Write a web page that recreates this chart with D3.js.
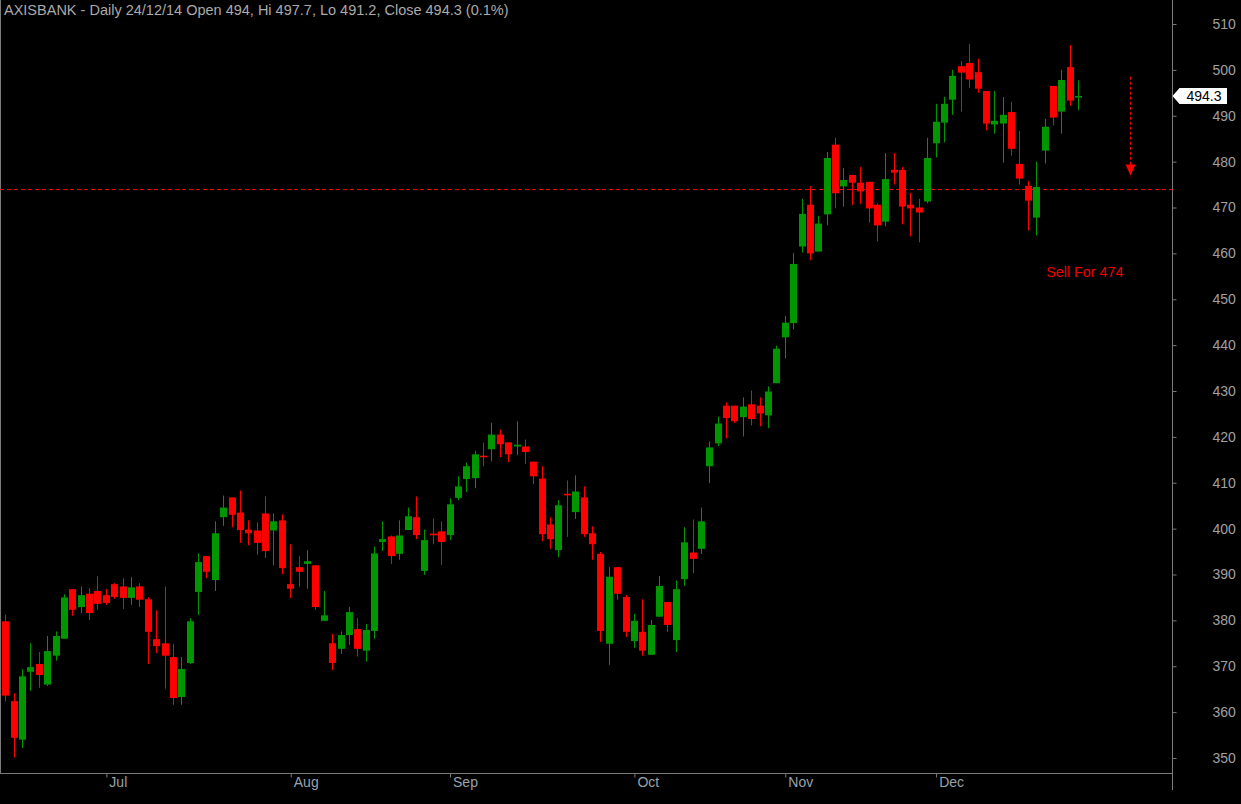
<!DOCTYPE html>
<html>
<head>
<meta charset="utf-8">
<script src="https://cdn.jsdelivr.net/npm/d3@7"></script>
<style>
  body { margin: 0; background: #000; }
  svg { display: block; }
  text { font-family: "Liberation Sans", Arial, sans-serif; }
</style>
</head>
<body>
<div id="chart"></div>
<script>
// Daily AXISBANK candles, 13 Jun 2014 .. 24 Dec 2014
const opens = [379.8, 362.4, 354.0, 368.8, 370.5, 366.0, 372.3, 376.0, 386.8, 382.9,
  385.8, 386.4, 385.5, 387.9, 387.4, 384.9, 387.4, 384.6, 375.9, 375.0,
  372.0, 363.3, 370.7, 386.2, 394.0, 388.8, 402.5, 406.8, 403.5, 399.8,
  399.6, 403.3, 399.6, 401.8, 387.9, 391.6, 392.3, 392.0, 379.9, 375.0,
  373.8, 376.8, 378.1, 373.4, 377.7, 397.1, 398.3, 394.5, 399.7, 402.5,
  390.8, 398.9, 399.4, 398.6, 406.7, 410.8, 411.0, 415.9, 417.3, 420.5,
  418.8, 417.9, 417.9, 414.6, 410.9, 400.9, 395.3, 407.6, 403.6, 406.8,
  399.0, 394.5, 374.9, 391.6, 385.1, 375.5, 377.5, 372.5, 380.8, 384.0,
  375.7, 389.0, 394.8, 395.6, 413.6, 418.6, 426.8, 426.8, 424.3, 427.1,
  426.8, 424.7, 431.7, 441.7, 444.8, 461.5, 470.6, 460.4, 468.5, 483.7,
  474.6, 477.1, 475.4, 475.6, 470.6, 466.9, 478.2, 478.2, 470.6, 470.0,
  471.3, 484.0, 488.5, 493.5, 500.8, 501.5, 499.5, 495.4, 488.1, 488.3,
  490.8, 479.5, 474.7, 467.8, 482.4, 496.5, 490.9, 500.6, 494.0];
const highs = [381.3, 364.1, 369.4, 375.0, 373.1, 376.6, 377.6, 385.7, 386.8, 387.4,
  387.0, 389.6, 386.8, 388.1, 389.2, 389.4, 388.1, 385.0, 382.2, 387.4,
  374.9, 372.0, 380.5, 394.6, 394.0, 401.6, 407.2, 406.8, 408.3, 401.8,
  401.4, 407.0, 403.3, 403.1, 396.6, 394.0, 395.3, 392.0, 386.4, 377.0,
  377.6, 382.9, 380.5, 379.2, 396.1, 401.6, 398.5, 401.8, 404.6, 407.0,
  399.8, 402.2, 401.6, 406.6, 411.4, 414.4, 417.0, 418.8, 423.1, 421.6,
  418.8, 423.4, 419.4, 414.6, 413.6, 402.5, 406.2, 410.5, 411.6, 409.2,
  400.5, 394.9, 391.6, 391.6, 385.5, 381.4, 384.6, 380.1, 389.7, 384.0,
  388.7, 400.3, 402.0, 404.6, 419.0, 424.4, 427.5, 426.8, 428.6, 430.1,
  428.6, 431.0, 439.9, 446.4, 460.1, 471.9, 474.7, 468.2, 482.1, 485.2,
  478.6, 477.1, 478.8, 475.6, 470.9, 481.9, 481.9, 478.8, 473.2, 471.9,
  485.2, 492.6, 494.1, 500.0, 501.9, 505.6, 502.4, 495.4, 495.4, 494.1,
  493.0, 486.7, 475.8, 480.0, 489.3, 496.5, 500.0, 505.4, 497.7];
const lows = [362.3, 350.1, 352.2, 364.6, 365.3, 365.7, 371.2, 376.0, 381.0, 381.6,
  380.1, 382.3, 383.4, 384.7, 382.5, 383.4, 382.9, 370.5, 372.9, 365.1,
  361.6, 361.6, 370.5, 381.2, 389.2, 386.4, 400.6, 400.3, 396.9, 396.4,
  394.3, 393.6, 392.0, 390.1, 384.9, 387.3, 386.9, 382.3, 379.9, 369.2,
  372.7, 374.7, 372.1, 371.0, 376.0, 395.1, 392.3, 393.2, 399.7, 397.7,
  389.9, 396.6, 392.1, 397.5, 406.2, 408.0, 408.8, 413.6, 414.7, 415.6,
  414.5, 416.0, 414.1, 409.7, 397.3, 395.6, 393.8, 398.2, 402.1, 398.2,
  393.2, 375.3, 370.3, 384.5, 376.4, 374.0, 372.3, 372.5, 380.8, 377.5,
  373.1, 387.5, 390.3, 394.5, 409.9, 418.0, 419.7, 423.0, 420.1, 422.5,
  422.3, 421.9, 431.7, 437.1, 443.4, 460.2, 458.5, 460.4, 466.1, 469.8,
  470.2, 470.6, 470.8, 466.7, 462.6, 465.9, 475.0, 466.3, 463.7, 462.4,
  470.9, 480.9, 484.2, 490.2, 490.9, 496.1, 495.0, 486.8, 486.1, 479.8,
  481.3, 475.0, 465.0, 463.9, 479.6, 487.9, 486.1, 492.2, 491.2];
const closes = [363.6, 354.4, 367.8, 369.8, 368.1, 373.3, 376.6, 385.0, 382.3, 385.5,
  381.6, 383.6, 383.8, 385.1, 384.9, 387.2, 384.5, 377.5, 374.4, 372.3,
  363.1, 369.4, 379.8, 392.7, 390.6, 399.0, 404.6, 403.0, 399.7, 399.0,
  396.9, 395.1, 401.6, 391.4, 386.9, 390.6, 392.9, 382.9, 381.1, 370.7,
  376.8, 381.8, 373.8, 377.9, 394.6, 397.7, 394.0, 398.5, 402.7, 398.6,
  397.5, 398.6, 397.1, 405.3, 409.2, 413.6, 416.2, 415.6, 420.5, 418.4,
  416.2, 418.3, 416.7, 411.4, 398.8, 397.7, 405.1, 407.3, 408.1, 398.8,
  396.6, 377.7, 389.5, 385.8, 377.5, 379.9, 373.4, 379.0, 387.5, 379.0,
  386.8, 397.0, 393.4, 401.6, 417.7, 422.9, 424.1, 423.4, 426.6, 423.9,
  425.1, 429.9, 439.2, 444.9, 457.7, 468.6, 460.0, 466.5, 480.8, 473.1,
  476.0, 475.4, 473.5, 469.8, 466.1, 476.2, 477.6, 470.2, 469.8, 468.9,
  480.8, 488.7, 492.6, 498.7, 499.4, 497.9, 495.9, 488.3, 488.9, 490.2,
  482.8, 476.3, 471.5, 474.5, 487.6, 489.6, 497.8, 493.3, 494.3];

// x axis: first trading day of each month (candle index)
const monthLabels = ["Jul", "Aug", "Sep", "Oct", "Nov", "Dec"];
const monthStarts = [12, 34, 53, 75, 93, 111];

// y axis tick labels
const priceTicks = [350, 360, 370, 380, 390, 400, 410, 420, 430, 440, 450, 460, 470, 480, 490, 500, 510];

// annotation
const headerText = "AXISBANK - Daily 24/12/14 Open 494, Hi 497.7, Lo 491.2, Close 494.3 (0.1%)";
const targetPrice = 474;
const signalText = "Sell For 474";
const signalPos = [124.2, 454.9];      // candle index, price
const arrowPos = [134.2, 498.5, 477];  // candle index, from price, to price

const width = 1241;
const height = 804;
const plotRight = 1172.5;
const axisY = 773.5;

const svg = d3.select("#chart").append("svg")
  .attr("width", width)
  .attr("height", height)
  .style("background", "#000");

const x = d3.scaleLinear().domain([-0.63, 139.2]).range([0, 1172]);
const y = d3.scaleLinear().domain([350, 510]).range([758, 24]);

const up = "#009600";
const down = "#ff0000";
const idx = d3.range(closes.length);
const colorOf = (i) => (closes[i] >= opens[i] ? up : down);

// frame lines
svg.append("line").attr("x1", 0.5).attr("x2", 0.5).attr("y1", 0).attr("y2", axisY)
  .attr("stroke", "#7a7a7a");
svg.append("line").attr("x1", 0).attr("x2", plotRight).attr("y1", axisY).attr("y2", axisY)
  .attr("stroke", "#7a7a7a");
svg.append("line").attr("x1", plotRight).attr("x2", plotRight).attr("y1", 0).attr("y2", 790)
  .attr("stroke", "#7a7a7a");

// target line
svg.append("line")
  .attr("x1", 0).attr("x2", plotRight)
  .attr("y1", Math.round(y(targetPrice)) + 0.5)
  .attr("y2", Math.round(y(targetPrice)) + 0.5)
  .attr("stroke", "#ff0000")
  .attr("stroke-dasharray", "4,3");

// candles
const cx = (i) => Math.round(x(i));

svg.append("g").selectAll("line")
  .data(idx)
  .join("line")
  .attr("x1", (i) => cx(i) + 0.5)
  .attr("x2", (i) => cx(i) + 0.5)
  .attr("y1", (i) => y(highs[i]))
  .attr("y2", (i) => y(lows[i]))
  .attr("stroke", colorOf)
  .attr("stroke-width", 1);

svg.append("g").selectAll("rect")
  .data(idx)
  .join("rect")
  .attr("x", (i) => cx(i) - 3)
  .attr("width", 7)
  .attr("y", (i) => y(Math.max(opens[i], closes[i])))
  .attr("height", (i) => Math.max(1.6, Math.abs(y(opens[i]) - y(closes[i]))))
  .attr("fill", colorOf);

// y axis
const yAxis = svg.append("g")
  .attr("transform", `translate(${plotRight},0)`)
  .call(d3.axisRight(y).tickValues(priceTicks).tickSize(4).tickPadding(36).tickFormat(d3.format("d")));
yAxis.select(".domain").remove();
yAxis.selectAll("line").attr("stroke", "#7a7a7a");
yAxis.selectAll("text")
  .attr("fill", "#a0a0a0")
  .style("font-size", "14px")
  .style("font-family", "'Liberation Sans', Arial, sans-serif");

// x axis
const xAxis = svg.append("g")
  .attr("transform", `translate(0,${axisY})`)
  .call(d3.axisBottom(x).tickValues(monthStarts).tickSize(4)
    .tickFormat((d, i) => monthLabels[i]));
xAxis.select(".domain").remove();
xAxis.selectAll(".tick line").attr("stroke", "#7a7a7a").attr("transform", "translate(0.5,0)");
xAxis.selectAll(".tick text")
  .attr("text-anchor", "start")
  .attr("x", 3)
  .attr("y", 13)
  .attr("dy", null)
  .attr("fill", "#98a2ad")
  .style("font-size", "14px")
  .style("font-family", "'Liberation Sans', Arial, sans-serif");

// header
svg.append("text")
  .attr("x", 4)
  .attr("y", 15)
  .attr("fill", "#aaaaaa")
  .style("font-size", "14.5px")
  .text(headerText);

// last price tag
const lastY = Math.round(y(closes[closes.length - 1]));
svg.append("path")
  .attr("d", `M${plotRight},${lastY} L${plotRight + 7},${lastY - 8} L1227,${lastY - 8} L1227,${lastY + 8} L${plotRight + 7},${lastY + 8} Z`)
  .attr("fill", "#ffffff");
svg.append("text")
  .attr("x", 1204)
  .attr("y", lastY + 5)
  .attr("text-anchor", "middle")
  .attr("fill", "#000")
  .style("font-size", "14px")
  .text(d3.format(".1f")(closes[closes.length - 1]));

// sell signal arrow + text
const ax = Math.round(x(arrowPos[0])) + 0.5;
svg.append("line")
  .attr("x1", ax).attr("x2", ax)
  .attr("y1", y(arrowPos[1])).attr("y2", y(arrowPos[2]) + 2)
  .attr("stroke", "#ff0000")
  .attr("stroke-dasharray", "3,2");
const tipY = y(arrowPos[2]);
svg.append("path")
  .attr("d", `M${ax - 5},${tipY - 11} L${ax + 5},${tipY - 11} L${ax},${tipY} Z`)
  .attr("fill", "#ff0000");

svg.append("text")
  .attr("x", x(signalPos[0]))
  .attr("y", y(signalPos[1]))
  .attr("fill", "#ee0000")
  .style("font-size", "14.3px")
  .text(signalText);
</script>
</body>
</html>
